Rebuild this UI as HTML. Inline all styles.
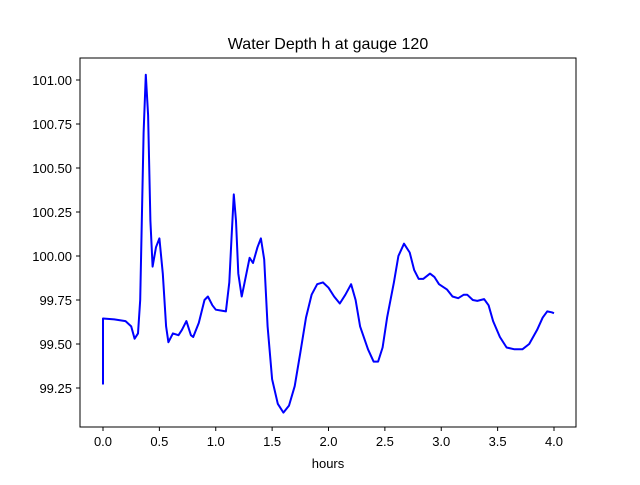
<!DOCTYPE html>
<html><head><meta charset="utf-8"><style>
body{margin:0;background:#fff;}
svg text{font-family:"Liberation Sans","DejaVu Sans",sans-serif;fill:#000;}
</style></head><body>
<svg width="640" height="480" xmlns="http://www.w3.org/2000/svg">
<rect width="640" height="480" fill="#fff"/>
<text x="328" y="49" font-size="16" text-anchor="middle">Water Depth h at gauge 120</text>
<g id="axes"></g>
<path id="line" fill="none" stroke="#0000ff" stroke-width="2" stroke-linejoin="round"/>
<rect x="80" y="58" width="496" height="369" fill="none" stroke="#000" stroke-width="1"/>
<text x="328" y="468" font-size="13" text-anchor="middle">hours</text>
</svg>
<script>
const hours=[0,0,0.1,0.2,0.25,0.28,0.31,0.33,0.36,0.38,0.40,0.42,0.44,0.47,0.50,0.53,0.56,0.58,0.62,0.67,0.70,0.74,0.78,0.80,0.85,0.90,0.93,0.97,1.00,1.05,1.09,1.12,1.14,1.16,1.18,1.20,1.23,1.25,1.30,1.33,1.37,1.40,1.43,1.46,1.50,1.55,1.60,1.65,1.70,1.75,1.80,1.85,1.90,1.95,2.00,2.05,2.10,2.15,2.20,2.24,2.28,2.35,2.40,2.44,2.48,2.52,2.58,2.62,2.67,2.72,2.76,2.80,2.84,2.90,2.94,2.98,3.05,3.10,3.15,3.20,3.23,3.28,3.32,3.38,3.42,3.46,3.52,3.58,3.65,3.72,3.78,3.85,3.90,3.94,3.98,4.00];
const depth=[99.27,99.645,99.64,99.63,99.60,99.53,99.56,99.75,100.7,101.03,100.8,100.2,99.94,100.05,100.10,99.9,99.6,99.51,99.56,99.55,99.58,99.63,99.55,99.54,99.62,99.75,99.77,99.72,99.695,99.69,99.685,99.85,100.1,100.35,100.2,99.9,99.77,99.83,99.99,99.96,100.05,100.10,99.98,99.6,99.3,99.16,99.11,99.15,99.26,99.45,99.65,99.78,99.84,99.85,99.82,99.77,99.73,99.78,99.84,99.75,99.6,99.47,99.40,99.40,99.48,99.65,99.85,100.0,100.07,100.02,99.92,99.87,99.87,99.90,99.88,99.84,99.81,99.77,99.76,99.78,99.78,99.75,99.745,99.755,99.72,99.63,99.54,99.48,99.47,99.47,99.5,99.58,99.65,99.685,99.68,99.675];
const xTicks=[0,0.5,1,1.5,2,2.5,3,3.5,4];
const xTickLabels=["0.0","0.5","1.0","1.5","2.0","2.5","3.0","3.5","4.0"];
const yTicks=[99.25,99.5,99.75,100,100.25,100.5,100.75,101];
const yTickLabels=["99.25","99.50","99.75","100.00","100.25","100.50","100.75","101.00"];
const X=t=>103+t*112.75;
const Y=v=>80+(101-v)*176;
const ns="http://www.w3.org/2000/svg";
const ax=document.getElementById('axes');
xTicks.forEach((t,i)=>{
  const l=document.createElementNS(ns,'line');
  l.setAttribute('x1',X(t));l.setAttribute('x2',X(t));l.setAttribute('y1',427);l.setAttribute('y2',431);l.setAttribute('stroke','#000');
  
  
  ax.appendChild(l);
  const tx=document.createElementNS(ns,'text');
  tx.setAttribute('x',X(t));tx.setAttribute('y',446);tx.setAttribute('font-size','13');tx.setAttribute('text-anchor','middle');
  tx.textContent=xTickLabels[i];
  
  
  ax.appendChild(tx);
});
yTicks.forEach((v,i)=>{
  const l=document.createElementNS(ns,'line');
  l.setAttribute('x1',76);l.setAttribute('x2',80);l.setAttribute('y1',Y(v));l.setAttribute('y2',Y(v));l.setAttribute('stroke','#000');
  
  
  ax.appendChild(l);
  const tx=document.createElementNS(ns,'text');
  tx.setAttribute('x',72);tx.setAttribute('y',Y(v)+5);tx.setAttribute('font-size','13');tx.setAttribute('text-anchor','end');
  tx.textContent=yTickLabels[i];
  
  
  ax.appendChild(tx);
});
document.getElementById('line').setAttribute('d',hours.map((t,i)=>(i?'L':'M')+X(t).toFixed(1)+' '+Y(depth[i]).toFixed(1)).join(' '));
</script>
</body></html>
